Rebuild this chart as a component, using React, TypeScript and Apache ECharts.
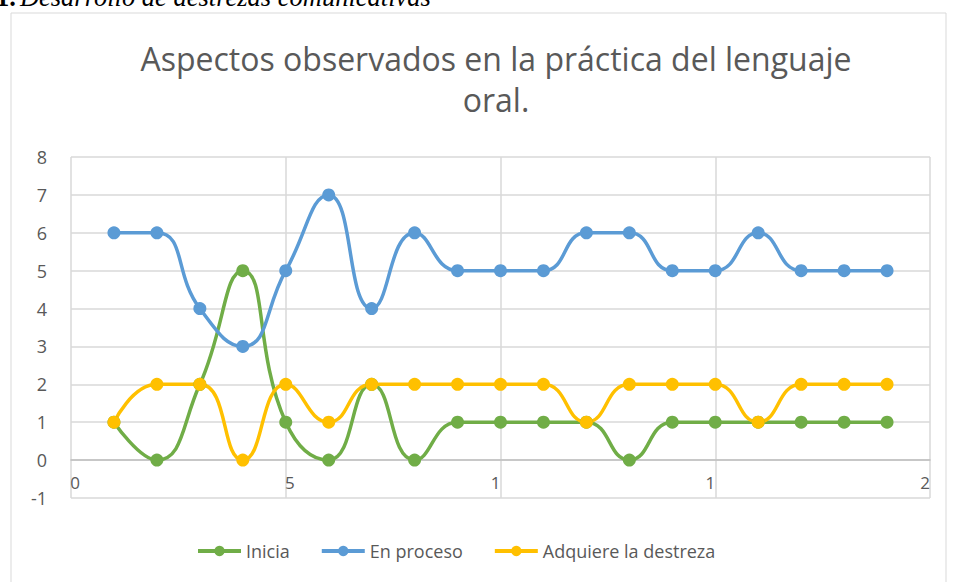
import React, { useEffect, useRef } from "react";
import * as echarts from "echarts";

const xValues = [1, 2, 3, 4, 5, 6, 7, 8, 9, 10, 11, 12, 13, 14, 15, 16, 17, 18, 19];
const inicia = [1, 0, 2, 5, 1, 0, 2, 0, 1, 1, 1, 1, 0, 1, 1, 1, 1, 1, 1];
const enProceso = [6, 6, 4, 3, 5, 7, 4, 6, 5, 5, 5, 6, 6, 5, 5, 6, 5, 5, 5];
const adquiere = [1, 2, 2, 0, 2, 1, 2, 2, 2, 2, 2, 1, 2, 2, 2, 1, 2, 2, 2];
const seriesNames = ["Inicia", "En proceso", "Adquiere la destreza"];
const colors = ["#70AD47", "#5B9BD5", "#FFC000"];
const title = "Aspectos observados en la práctica del lenguaje\noral.";

export default function App() {
  const ref = useRef<HTMLDivElement>(null);
  useEffect(() => {
    document.body.style.margin = "0";
    const chart = echarts.init(ref.current!, null, { renderer: "svg" });
    const data = [inicia, enProceso, adquiere];
    const font = "'Open Sans', 'Liberation Sans', sans-serif";
    chart.setOption({
      animation: false,
      backgroundColor: "#ffffff",
      textStyle: { fontFamily: font },
      title: {
        text: title,
        left: 491,
        textAlign: "center",
        top: 33,
        textStyle: { fontSize: 32, fontWeight: "normal", color: "#595959", lineHeight: 41, fontFamily: font },
      },
      graphic: [
        {
          type: "rect",
          shape: { x: 11, y: 13, width: 935, height: 600 },
          style: { fill: "none", stroke: "#d9d9d9", lineWidth: 1 },
          silent: true,
        },
        {
          type: "text",
          x: -4,
          y: 10,
          style: {
            text: "{b|1.}{i|Desarrollo de destrezas comunicativas}",
            verticalAlign: "bottom",
            rich: {
              b: { fontFamily: "'Liberation Serif', serif", fontSize: 26.5, fontWeight: "bold", fill: "#000" },
              i: { fontFamily: "'Liberation Serif', serif", fontSize: 26.5, fontStyle: "italic", fill: "#000", padding: [0, 0, 0, 4] },
            },
          },
        },
      ],
      grid: { left: 71, right: 25, top: 157, bottom: 84, containLabel: false },
      legend: {
        bottom: 17,
        left: 191,
        itemWidth: 43,
        itemHeight: 13,
        itemGap: 30,
        lineStyle: { width: 4 },
        textStyle: { fontSize: 18, color: "#595959", fontFamily: font },
        data: seriesNames,
      },
      xAxis: {
        type: "value",
        min: 0,
        max: 20,
        interval: 5,
        offset: -38,
        axisLine: { onZero: false, lineStyle: { color: "#bfbfbf", width: 1.5 } },
        axisTick: { show: false },
        axisLabel: {
          margin: 14,
          fontSize: 17,
          color: "#595959",
          formatter: (v: number) => {
            const s = String(v);
            if (v < 10) return "{l|" + s + "}";
            return "{r|" + s.charAt(0) + "}";
          },
          rich: {
            l: { fontSize: 17, color: "#595959", padding: [0, 0, 0, 8] },
            r: { fontSize: 17, color: "#595959", padding: [0, 10, 0, 0] },
          },
        },
        splitLine: { show: true, lineStyle: { color: "#d9d9d9", width: 1.5 } },
      },
      yAxis: {
        type: "value",
        min: -1,
        max: 8,
        interval: 1,
        axisLine: { show: false, onZero: false },
        axisTick: { show: false },
        axisLabel: { margin: 24, fontSize: 18, color: "#595959" },
        splitLine: { show: true, lineStyle: { color: "#d9d9d9", width: 1.5 } },
      },
      series: seriesNames.map((name, i) => ({
        name,
        type: "line",
        smooth: 0.5,
        symbol: "circle",
        symbolSize: 13,
        color: colors[i],
        lineStyle: { width: 3.5, color: colors[i] },
        itemStyle: { color: colors[i] },
        data: xValues.map((x, j) => [x, data[i][j]]),
      })),
    });
    return () => chart.dispose();
  }, []);
  return <div ref={ref} style={{ position: "absolute", left: 0, top: 0, width: 955, height: 582 }} />;
}
